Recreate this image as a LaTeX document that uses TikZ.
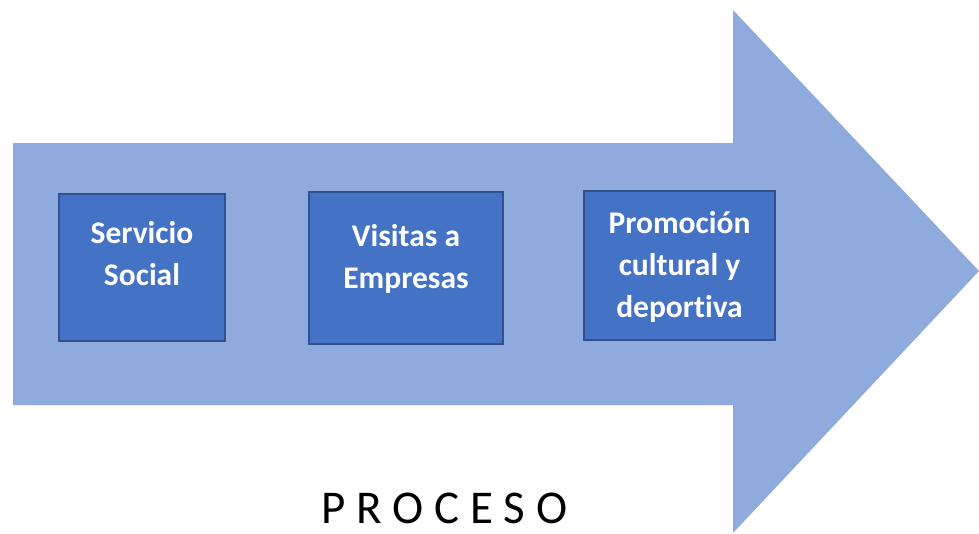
\documentclass[tikz,border=0pt]{standalone}
\usepackage{fontspec}
\setmainfont{Carlito}[Ligatures=CommonOff]
\definecolor{arrowfill}{HTML}{8FAADC}
\definecolor{boxfill}{HTML}{4472C4}
\definecolor{boxline}{HTML}{2F528F}
\begin{document}
\begin{tikzpicture}[x=1pt,y=-1pt,
        stage/.style={draw=boxline, line width=2pt, fill=boxfill, text=white,
            align=flush center, inner sep=0pt, text height=0pt,
            font=\fontsize{31.5}{42}\selectfont\bfseries}]
        \useasboundingbox (0,0) rectangle (979,533);

        % Draw the arrow
        \fill[arrowfill] (13,143) -- (733,143) -- (733,10) -- (979,271)
            -- (733,533) -- (733,405) -- (13,405) -- cycle;

        % Define the stages
        \node[stage, text width=166pt, minimum height=147pt, text depth=49pt] (S1) at (142,267.5) {Servicio\\Social};
        \node[stage, text width=194pt, minimum height=152pt, text depth=44pt] (S2) at (406,268) {Visitas a\\Empresas};
        \node[stage, text width=191pt, minimum height=149pt, text depth=65pt] (S3) at (679.5,265.5) {Promoción\\cultural y\\deportiva};

        % Draw the label
        \node[font=\fontsize{47}{50}\selectfont, anchor=base] (L) at (444.5,523) {P R O C E S O};
    \end{tikzpicture}
\end{document}
